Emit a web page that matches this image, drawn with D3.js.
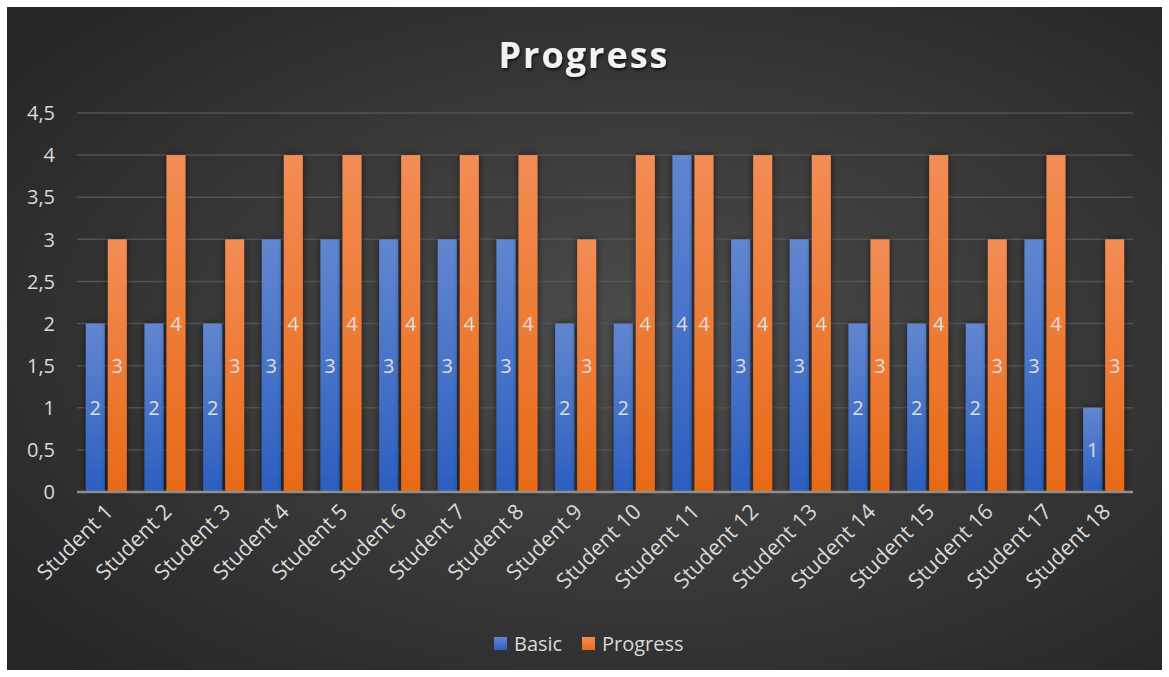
<!DOCTYPE html>
<html>
<head>
<meta charset="utf-8">
<script src="https://cdn.jsdelivr.net/npm/d3@7"></script>
<style>
  body { margin: 0; background: #fff; }
  svg { display: block; }
</style>
</head>
<body>
<div id="chart"></div>
<script>
"use strict";

// chart data
let students = ["Student 1","Student 2","Student 3","Student 4","Student 5","Student 6",
  "Student 7","Student 8","Student 9","Student 10","Student 11","Student 12",
  "Student 13","Student 14","Student 15","Student 16","Student 17","Student 18"];
let basic =    [2,2,2,3,3,3,3,3,2,2,4,3,3,2,2,2,3,1];
let progress = [3,4,3,4,4,4,4,4,3,4,4,4,4,3,4,3,4,3];
let seriesNames = ["Basic", "Progress"];
let yTicks = [0,0.5,1,1.5,2,2.5,3,3.5,4,4.5];

var width = 1169, height = 677;
var fontFam = "'Open Sans', 'Noto Sans', sans-serif";

var svg = d3.select('#chart').append('svg')
  .attr('width', width)
  .attr('height', height);

var defs = svg.append('defs');

var bg = defs.append('radialGradient').attr('id', 'bg')
  .attr('cx', '55%').attr('cy', '50%').attr('r', '70%');
bg.append('stop').attr('offset', '0%').attr('stop-color', '#4c4c4c');
bg.append('stop').attr('offset', '100%').attr('stop-color', '#262626');

var blueGrad = defs.append('linearGradient').attr('id', 'blueGrad')
  .attr('x1', 0).attr('y1', 0).attr('x2', 0).attr('y2', 1);
blueGrad.append('stop').attr('offset', '0%').attr('stop-color', '#6287d0');
blueGrad.append('stop').attr('offset', '100%').attr('stop-color', '#2c5fc0');

var orangeGrad = defs.append('linearGradient').attr('id', 'orangeGrad')
  .attr('x1', 0).attr('y1', 0).attr('x2', 0).attr('y2', 1);
orangeGrad.append('stop').attr('offset', '0%').attr('stop-color', '#f38c55');
orangeGrad.append('stop').attr('offset', '100%').attr('stop-color', '#e86a17');

var shadow = defs.append('filter').attr('id', 'shadow')
  .attr('x', '-50%').attr('y', '-10%').attr('width', '200%').attr('height', '120%');
shadow.append('feDropShadow').attr('dx', 0).attr('dy', 0)
  .attr('stdDeviation', 3).attr('flood-color', '#000').attr('flood-opacity', 0.6);

var titleShadow = defs.append('filter').attr('id', 'titleShadow');
titleShadow.append('feDropShadow').attr('dx', 1).attr('dy', 2)
  .attr('stdDeviation', 1.5).attr('flood-color', '#000').attr('flood-opacity', 0.7);

// background
svg.append('rect')
  .attr('x', 7).attr('y', 7)
  .attr('width', 1155).attr('height', 663)
  .attr('fill', 'url(#bg)');

// title
svg.append('text')
  .attr('x', 584).attr('y', 68)
  .attr('text-anchor', 'middle')
  .attr('font-family', fontFam)
  .attr('font-weight', 'bold')
  .attr('font-size', 36)
  .attr('letter-spacing', 2)
  .attr('fill', '#f2f2f2')
  .attr('filter', 'url(#titleShadow)')
  .text('Progress');

// scales
var plotLeft = 77, plotRight = 1133, plotTop = 113, plotBottom = 492;

var yScale = d3.scaleLinear()
  .domain([0, 4.5])
  .range([plotBottom, plotTop]);

var x0 = d3.scaleBand()
  .domain(students)
  .range([plotLeft, plotRight]);

var barWidth = 19, barGap = 3;
var x1 = d3.scaleOrdinal()
  .domain(seriesNames)
  .range([0, barWidth + barGap]);

var groupOffset = (x0.bandwidth() - (2 * barWidth + barGap)) / 2;

// gridlines + y labels
svg.append('g').selectAll('line').data(yTicks.slice(1))
  .enter().append('line')
    .attr('x1', plotLeft).attr('x2', plotRight)
    .attr('y1', function (d) { return yScale(d); })
    .attr('y2', function (d) { return yScale(d); })
    .attr('stroke', '#535353')
    .attr('stroke-width', 1.5);

svg.append('g').selectAll('text').data(yTicks)
  .enter().append('text')
    .attr('x', 55)
    .attr('y', function (d) { return yScale(d); })
    .attr('dy', '0.36em')
    .attr('text-anchor', 'end')
    .attr('font-family', fontFam)
    .attr('font-size', 20)
    .attr('fill', '#d9d9d9')
    .text(function (d) { return String(d).replace('.', ','); });

// bars
var rows = students.map(function (s, i) {
  return { student: s, values: [
    { key: 'Basic', value: basic[i], fill: 'url(#blueGrad)' },
    { key: 'Progress', value: progress[i], fill: 'url(#orangeGrad)' }
  ]};
});

var groups = svg.append('g').selectAll('g').data(rows)
  .enter().append('g')
    .attr('transform', function (d) {
      return 'translate(' + (x0(d.student) + groupOffset) + ',0)';
    });

groups.selectAll('rect').data(function (d) { return d.values; })
  .enter().append('rect')
    .attr('x', function (d) { return x1(d.key); })
    .attr('y', function (d) { return yScale(d.value); })
    .attr('width', barWidth)
    .attr('height', function (d) { return yScale(0) - yScale(d.value); })
    .style('fill', function (d) { return d.fill; })
    .attr('filter', 'url(#shadow)');

groups.selectAll('text').data(function (d) { return d.values; })
  .enter().append('text')
    .attr('x', function (d) { return x1(d.key) + barWidth / 2; })
    .attr('y', function (d) { return yScale(d.value / 2); })
    .attr('dy', '0.36em')
    .attr('text-anchor', 'middle')
    .attr('font-family', fontFam)
    .attr('font-size', 20)
    .attr('fill', '#dedede')
    .text(function (d) { return d.value; });

// baseline
svg.append('line')
  .attr('x1', plotLeft).attr('x2', plotRight)
  .attr('y1', plotBottom).attr('y2', plotBottom)
  .attr('stroke', '#8e8e8e')
  .attr('stroke-width', 2.5);

// category labels
svg.append('g').selectAll('text').data(students)
  .enter().append('text')
    .attr('transform', function (d) {
      return 'translate(' + (x0(d) + x0.bandwidth() / 2 + 8) + ',' + 513 + ') rotate(-45)';
    })
    .attr('text-anchor', 'end')
    .attr('font-family', fontFam)
    .attr('font-size', 21.5)
    .attr('fill', '#d9d9d9')
    .text(function (d) { return d; });

// legend
var legend = svg.append('g').attr('transform', 'translate(494,637)');
var legendItems = legend.selectAll('g').data(seriesNames)
  .enter().append('g')
    .attr('transform', function (d, i) { return 'translate(' + (i * 88) + ',0)'; });

legendItems.append('rect')
  .attr('width', 13).attr('height', 13)
  .style('fill', function (d, i) { return i === 0 ? 'url(#blueGrad)' : 'url(#orangeGrad)'; });

legendItems.append('text')
  .attr('x', 20).attr('y', 7)
  .attr('dy', '0.36em')
  .attr('font-family', fontFam)
  .attr('font-size', 20)
  .attr('fill', '#d9d9d9')
  .text(function (d) { return d; });
</script>
</body>
</html>
